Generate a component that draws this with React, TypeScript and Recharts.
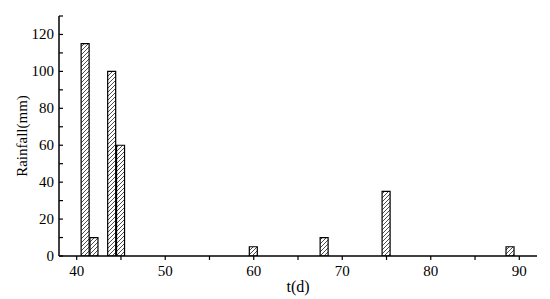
import React from 'react';
import { BarChart, Bar, XAxis, YAxis, Label } from 'recharts';

const days = [41, 42, 44, 45, 60, 68, 75, 89];
const rainfall = [115, 10, 100, 60, 5, 10, 35, 5];
const xTicks = [40, 45, 50, 55, 60, 65, 70, 75, 80, 85, 90];
const yTicks = [0, 10, 20, 30, 40, 50, 60, 70, 80, 90, 100, 110, 120, 130];

const FONT = '"Liberation Serif", "Times New Roman", serif';

const chartData = days.map((d, i) => ({ day: d, rain: rainfall[i] }));

const XTick = (props: any) => {
    const { x, y, payload } = props;
    const v = payload.value;
    return (
        <g>
            <line x1={x} x2={x} y1={y} y2={y + 4} stroke="#000" strokeWidth={1.2} />
            {v % 10 === 0 && (
                <text x={x} y={y + 20} textAnchor="middle" fontSize={15} fontFamily={FONT} fill="#000">
                    {v}
                </text>
            )}
        </g>
    );
};

const YTick = (props: any) => {
    const { x, y, payload } = props;
    const v = payload.value;
    return (
        <g>
            <line x1={x} x2={x + 4} y1={y} y2={y} stroke="#000" strokeWidth={1.2} />
            {v % 20 === 0 && (
                <text x={x - 5} y={y + 5} textAnchor="end" fontSize={15} fontFamily={FONT} fill="#000">
                    {v}
                </text>
            )}
        </g>
    );
};

export default function App() {
    return (
        <div style={{ position: 'absolute', left: 0, top: 0, width: 550, height: 299, background: '#fff' }}>
            <BarChart width={550} height={299} data={chartData} margin={{ top: 16, right: 13, bottom: 0, left: 0 }}>
                <defs>
                    <pattern id="hatch" patternUnits="userSpaceOnUse" width={4} height={4}>
                        <path d="M-1,1 L1,-1 M0,4 L4,0 M3,5 L5,3" stroke="#000" strokeWidth={0.7} />
                    </pattern>
                </defs>
                <XAxis
                    dataKey="day"
                    type="number"
                    domain={[38, 92]}
                    ticks={xTicks}
                    tick={<XTick />}
                    tickLine={false}
                    tickSize={0}
                    tickMargin={0}
                    height={43}
                    interval={0}
                    axisLine={{ stroke: '#000', strokeWidth: 1.5 }}
                    allowDataOverflow
                >
                    <Label value="t(d)" position="insideBottom" offset={7} style={{ fontFamily: FONT, fontSize: 16, fill: '#000' }} />
                </XAxis>
                <YAxis
                    type="number"
                    domain={[0, 130]}
                    ticks={yTicks}
                    tick={<YTick />}
                    tickLine={false}
                    tickSize={0}
                    tickMargin={0}
                    width={59}
                    interval={0}
                    axisLine={{ stroke: '#000', strokeWidth: 1.5 }}
                    allowDataOverflow
                >
                    <Label
                        value="Rainfall(mm)"
                        angle={-90}
                        position="insideLeft"
                        offset={22}
                        style={{ fontFamily: FONT, fontSize: 15, fill: '#000', textAnchor: 'middle' }}
                    />
                </YAxis>
                <Bar dataKey="rain" barSize={8} fill="url(#hatch)" stroke="#000" strokeWidth={1.2} isAnimationActive={false} />
            </BarChart>
        </div>
    );
}
